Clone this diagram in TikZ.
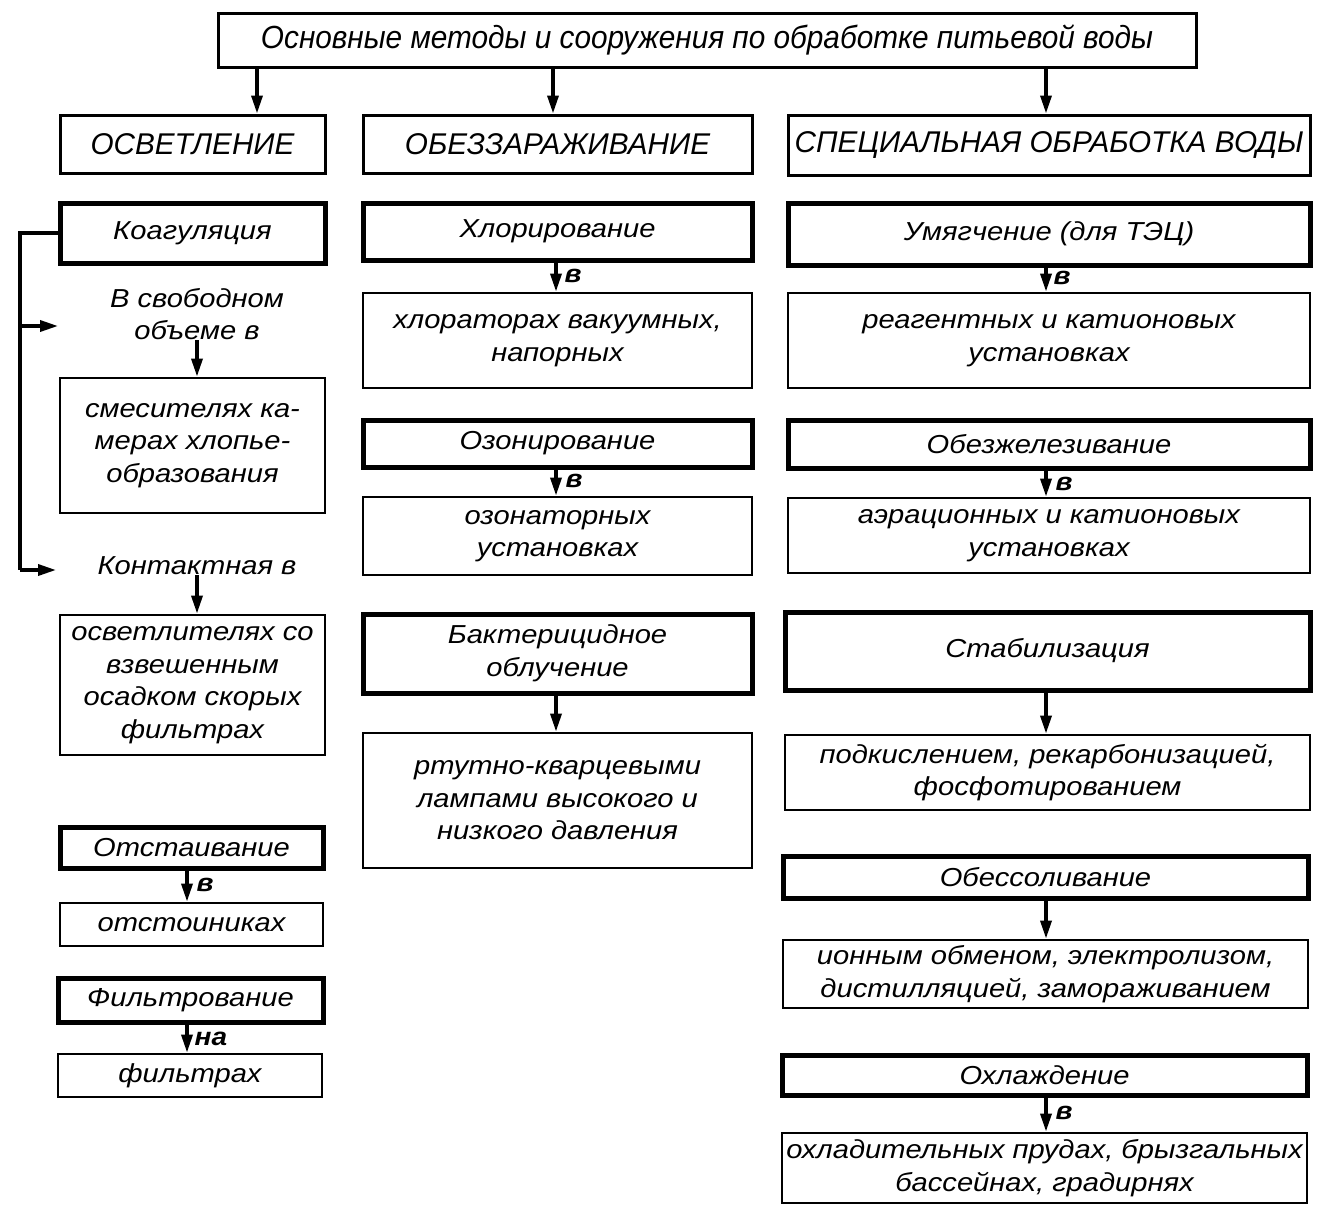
\documentclass[tikz,border=0pt]{standalone}
\usepackage{fontspec}
\setmainfont{Liberation Sans}[FakeStretch=1.12]
\newfontfamily\hdrfam{Liberation Sans}[FakeStretch=0.99]
\newfontfamily\topfam{Liberation Sans}[FakeStretch=0.93]
\usetikzlibrary{arrows.meta}
\newcommand\bodyf{\fontsize{26}{32.5}\selectfont\itshape}
\newcommand\hdrf{\hdrfam\fontsize{30}{34}\selectfont\itshape}
\newcommand\topf{\topfam\fontsize{32}{34}\selectfont\itshape}
\newcommand\lblf{\fontsize{25}{26}\selectfont\itshape\bfseries}
\tikzset{
  box/.style={draw, line width=2.8pt, inner sep=0pt, align=center, font=\bodyf, rectangle},
  thickbox/.style={box, line width=5pt},
  hdrbox/.style={box, line width=3pt, font=\hdrf},
  plain/.style={inner sep=0pt, align=center, font=\bodyf},
  lbl/.style={inner sep=0pt, font=\lblf, anchor=west},
  arr/.style={line width=3.4pt, -{Triangle[width=11pt,length=18pt]}},
  brk/.style={line width=3.2pt},
}
\begin{document}
\begin{tikzpicture}[x=1pt,y=-1pt]
\useasboundingbox (0,0) rectangle (1332,1216);
% top
\node[hdrbox, font=\topf, minimum width=978, minimum height=54] (top) at (707,40) {Основные методы и сооружения по обработке питьевой воды};
% headers
\node[hdrbox, minimum width=265, minimum height=58] (h1) at (192.5,144) {ОСВЕТЛЕНИЕ};
\node[hdrbox, minimum width=389, minimum height=58] (h2) at (557.5,144) {ОБЕЗЗАРАЖИВАНИЕ};
\node[hdrbox, minimum width=522, minimum height=60] (h3) at (1049,145) {СПЕЦИАЛЬНАЯ ОБРАБОТКА ВОДЫ};
\draw[arr] (257,0 |- top.south) -- (257,0 |- h1.north);
\draw[arr] (553,0 |- top.south) -- (553,0 |- h2.north);
\draw[arr] (1046,0 |- top.south) -- (1046,0 |- h3.north);
% left column
\node[thickbox, minimum width=265, minimum height=60] (koag) at (192.5,233) {Коагуляция};
\node[plain] (svob) at (197,314) {В свободном\\объеме в};
\node[box, minimum width=265, minimum height=135] (smes) at (192.5,445.5) {смесителях ка-\\мерах хлопье-\\образования};
\node[plain] (kont) at (197,566) {Контактная в};
\node[box, minimum width=265, minimum height=140] (osv) at (192.5,685) {осветлителях со\\взвешенным\\осадком скорых\\фильтрах};
\draw[arr] (197,0 |- svob.south) -- (197,0 |- smes.north);
\draw[arr] (197,0 |- kont.south) -- (197,0 |- osv.north);
\coordinate (bT) at (20,233);
\coordinate (bM) at (20,326);
\coordinate (bB) at (20,570);
\coordinate (eM) at (58,326);
\coordinate (eB) at (56,570);
\draw[brk] (koag.west) -- (bT) -- (bB);
\draw[arr] (bM) -- (eM);
\draw[arr] (bB) -- (eB);
\node[thickbox, minimum width=263, minimum height=41] (ots) at (191.5,847.5) {Отстаивание};
\node[box, minimum width=263, minimum height=43] (otsb) at (191.5,924.5) {отстоиниках};
\draw[arr] (187,0 |- ots.south) -- (187,0 |- otsb.north) node[lbl, pos=0.45, xshift=8pt] {в};
\node[thickbox, minimum width=265, minimum height=44] (filt) at (190.5,1000) {Фильтрование};
\node[box, minimum width=264, minimum height=43] (filtb) at (190,1075.5) {фильтрах};
\draw[arr] (187,0 |- filt.south) -- (187,0 |- filtb.north) node[lbl, pos=0.5, xshift=6pt] {на};
% middle column
\node[thickbox, minimum width=389, minimum height=57] (chl) at (557.5,231.5) {Хлорирование};
\node[box, minimum width=389, minimum height=95] (chlb) at (557.5,340.5) {хлораторах вакуумных,\\напорных};
\draw[arr] (556,0 |- chl.south) -- (556,0 |- chlb.north) node[lbl, pos=0.45, xshift=7pt] {в};
\node[thickbox, minimum width=389, minimum height=47] (oz) at (557.5,443.5) {Озонирование};
\node[box, minimum width=389, minimum height=78] (ozb) at (557.5,536) {озонаторных\\установках};
\draw[arr] (556,0 |- oz.south) -- (556,0 |- ozb.north) node[lbl, pos=0.45, xshift=8pt] {в};
\node[thickbox, minimum width=389, minimum height=79] (bak) at (557.5,653.5) {Бактерицидное\\облучение};
\node[box, minimum width=389, minimum height=135] (bakb) at (557.5,800.5) {ртутно-кварцевыми\\лампами высокого и\\низкого давления};
\draw[arr] (556,0 |- bak.south) -- (556,0 |- bakb.north);
% right column
\node[thickbox, minimum width=522, minimum height=62] (um) at (1049,234) {Умягчение (для ТЭЦ)};
\node[box, minimum width=522, minimum height=95] (umb) at (1049,340.5) {реагентных и катионовых\\установках};
\draw[arr] (1046,0 |- um.south) -- (1046,0 |- umb.north) node[lbl, pos=0.45, xshift=6pt] {в};
\node[thickbox, minimum width=522, minimum height=48] (obz) at (1049,444) {Обезжелезивание};
\node[box, minimum width=522, minimum height=75] (obzb) at (1049,535.5) {аэрационных и катионовых\\установках};
\draw[arr] (1046,0 |- obz.south) -- (1046,0 |- obzb.north) node[lbl, pos=0.5, xshift=8pt] {в};
\node[thickbox, minimum width=525, minimum height=78] (stab) at (1047.5,651) {Стабилизация};
\node[box, minimum width=525, minimum height=75] (stabb) at (1047.5,772.5) {подкислением, рекарбонизацией,\\фосфотированием};
\draw[arr] (1046,0 |- stab.south) -- (1046,0 |- stabb.north);
\node[thickbox, minimum width=525, minimum height=42] (obs) at (1045.5,877) {Обессоливание};
\node[box, minimum width=525, minimum height=68] (obsb) at (1045.5,974) {ионным обменом, электролизом,\\дистилляцией, замораживанием};
\draw[arr] (1046,0 |- obs.south) -- (1046,0 |- obsb.north);
\node[thickbox, minimum width=525, minimum height=40] (ohl) at (1044.5,1075) {Охлаждение};
\node[box, minimum width=525, minimum height=70] (ohlb) at (1044.5,1168) {охладительных прудах, брызгальных\\бассейнах, градирнях};
\draw[arr] (1046,0 |- ohl.south) -- (1046,0 |- ohlb.north) node[lbl, pos=0.45, xshift=8pt] {в};
\end{tikzpicture}
\end{document}
